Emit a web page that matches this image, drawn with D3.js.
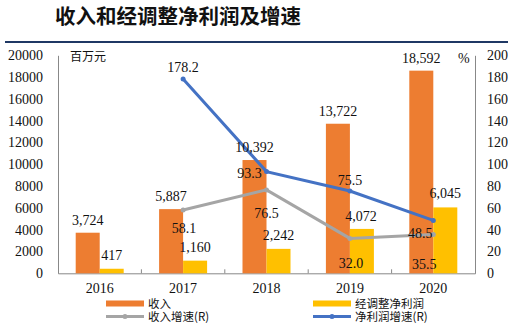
<!DOCTYPE html>
<html><head><meta charset="utf-8">
<script src="https://cdn.jsdelivr.net/npm/d3@7"></script>
<style>body{margin:0;background:#fff}svg{display:block}</style>
</head><body><svg id="c" width="508" height="323"></svg>
<script>
const years = ["2016","2017","2018","2019","2020"];
const revenue = [3724, 5887, 10392, 13722, 18592];
const adjProfit = [417, 1160, 2242, 4072, 6045];
const revGrowth = [null, 58.1, 76.5, 32.0, 35.5];
const profitGrowth = [null, 178.2, 93.3, 75.5, 48.5];
const leftTicks = [0,2000,4000,6000,8000,10000,12000,14000,16000,18000,20000];
const rightTicks = [0,20,40,60,80,100,120,140,160,180,200];
const seriesNames = ["收入","经调整净利润","收入增速(R)","净利润增速(R)"];
const title = "收入和经调整净利润及增速";

const svg = d3.select("#c");
const serif = "'Liberation Serif','Times New Roman',serif";
const cjk = "'Noto Sans CJK SC',sans-serif";
const C = {rev:"#ED7D31", prof:"#FFC000", rg:"#A5A5A5", pg:"#4472C4"};

// title
svg.append("text").attr("x",55).attr("y",24).attr("font-family",cjk).attr("font-weight","bold")
  .attr("font-size",20.5).attr("fill","#111").text(title);
svg.append("line").attr("x1",5).attr("x2",508).attr("y1",42).attr("y2",42)
  .attr("stroke","#1F3864").attr("stroke-width",2);

const L=58, R=475, T=55.3, B=273.3;
const x = d3.scaleBand().domain(years).range([L,R]);
const yL = d3.scaleLinear().domain([0,20000]).range([B,T]);
const yR = d3.scaleLinear().domain([0,200]).range([B,T]);
const bw = 24;

// axes
const axL = d3.axisLeft(yL).tickValues(leftTicks).tickSize(0).tickPadding(15).tickFormat(d3.format("d"));
const gL = svg.append("g").attr("transform",`translate(${L},0)`).call(axL);
const axR = d3.axisRight(yR).tickValues(rightTicks).tickSize(0).tickPadding(12).tickFormat(d3.format("d"));
const gR = svg.append("g").attr("transform",`translate(${R},0)`).call(axR);
const axB = d3.axisBottom(x).tickSize(0).tickPadding(10);
const gB = svg.append("g").attr("transform",`translate(0,${B})`).call(axB);
[gL,gR,gB].forEach(g=>{
  g.selectAll("text").attr("font-family",serif).attr("font-size",14).attr("fill","#111");
  g.select(".domain").attr("stroke","#888").attr("stroke-width",1);
});
// category boundary ticks (inward)
svg.append("g").selectAll("line").data(years.slice(1)).join("line")
  .attr("x1",d=>x(d)).attr("x2",d=>x(d)).attr("y1",B).attr("y2",B-4).attr("stroke","#888");

// bars
const cx = d=>x(d)+x.bandwidth()/2;
svg.append("g").selectAll("rect").data(years).join("rect")
  .attr("x",d=>cx(d)-bw).attr("width",bw).attr("y",(d,i)=>yL(revenue[i])).attr("height",(d,i)=>B-yL(revenue[i])).attr("fill",C.rev);
svg.append("g").selectAll("rect").data(years).join("rect")
  .attr("x",d=>cx(d)).attr("width",bw).attr("y",(d,i)=>yL(adjProfit[i])).attr("height",(d,i)=>B-yL(adjProfit[i])).attr("fill",C.prof);

// lines
const mk = arr => years.map((d,i)=>({x:cx(d),v:arr[i]})).filter(p=>p.v!=null);
const line = d3.line().x(p=>p.x).y(p=>yR(p.v));
svg.append("path").datum(mk(revGrowth)).attr("d",line).attr("fill","none").attr("stroke",C.rg).attr("stroke-width",3);
svg.append("g").selectAll("circle").data(mk(revGrowth)).join("circle").attr("cx",p=>p.x).attr("cy",p=>yR(p.v)).attr("r",2.5).attr("fill",C.rg);
svg.append("path").datum(mk(profitGrowth)).attr("d",line).attr("fill","none").attr("stroke",C.pg).attr("stroke-width",3);
svg.append("g").selectAll("circle").data(mk(profitGrowth)).join("circle").attr("cx",p=>p.x).attr("cy",p=>yR(p.v)).attr("r",2.5).attr("fill",C.pg);

// labels
const fmt = d3.format(",");
const lab = (xx,yy,t)=>svg.append("text").attr("x",xx).attr("y",yy).attr("text-anchor","middle")
  .attr("font-family",serif).attr("font-size",14).attr("fill","#111").text(t);
years.forEach((d,i)=>{
  lab(cx(d)-bw/2, yL(revenue[i])-8, fmt(revenue[i]));
});
// profit labels
const profDx=[2,2,2,1,2], profDy=[-9,-9,-9,-8,-9];
years.forEach((d,i)=>{ lab(cx(d)+bw/2+profDx[i]-2, yL(adjProfit[i])+profDy[i], fmt(adjProfit[i])); });
// growth labels (offsets relative to point)
const pgOff = [null,[0,-12],[-17,1],[0,-11],[-13,13]];
const rgOff = [null,[1,18],[0,23],[1,25],[-9,29]];
const f1 = d3.format(".1f");
years.forEach((d,i)=>{
  if(profitGrowth[i]!=null) lab(cx(d)+pgOff[i][0], yR(profitGrowth[i])+pgOff[i][1]+5, f1(profitGrowth[i]));
  if(revGrowth[i]!=null) lab(cx(d)+rgOff[i][0], yR(revGrowth[i])+rgOff[i][1]+5, f1(revGrowth[i]));
});

// unit labels
svg.append("text").attr("x",70).attr("y",61).attr("font-family",cjk).attr("font-size",12).attr("fill","#111").text("百万元");
svg.append("text").attr("x",458).attr("y",63).attr("font-family",serif).attr("font-size",14).attr("fill","#111").text("%");

// legend
const lg = svg.append("g").attr("font-family",cjk).attr("font-size",11.5).attr("fill","#111");
const items = [
  {x:106,y:303.5,type:"bar",c:C.rev,t:seriesNames[0]},
  {x:313,y:303.5,type:"bar",c:C.prof,t:seriesNames[1]},
  {x:106,y:316.5,type:"line",c:C.rg,t:seriesNames[2]},
  {x:313,y:316.5,type:"line",c:C.pg,t:seriesNames[3]}];
items.forEach(it=>{
  if(it.type==="bar") lg.append("rect").attr("x",it.x).attr("y",it.y-3).attr("width",38).attr("height",6).attr("fill",it.c);
  else { lg.append("line").attr("x1",it.x).attr("x2",it.x+38).attr("y1",it.y).attr("y2",it.y).attr("stroke",it.c).attr("stroke-width",3);
         lg.append("circle").attr("cx",it.x+19).attr("cy",it.y).attr("r",2.5).attr("fill",it.c); }
  lg.append("text").attr("x",it.x+42).attr("y",it.y+4).text(it.t);
});
</script></body></html>
